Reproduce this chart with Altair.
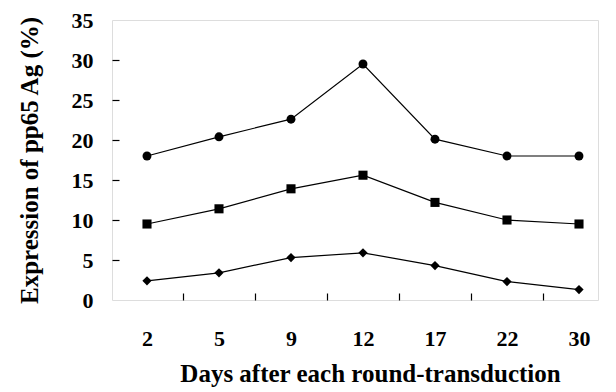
import altair as alt
import pandas as pd

days = ["2", "5", "9", "12", "17", "22", "30"]
circle_vals = [18.0, 20.4, 22.6, 29.5, 20.1, 18.0, 18.0]
square_vals = [9.5, 11.4, 13.9, 15.6, 12.2, 10.0, 9.5]
diamond_vals = [2.4, 3.4, 5.3, 5.9, 4.3, 2.3, 1.3]
series_names = ["circle", "square", "diamond"]
y_ticks = [0, 5, 10, 15, 20, 25, 30, 35]

rows = []
for name, vals in zip(series_names, [circle_vals, square_vals, diamond_vals]):
    for i, (d, v) in enumerate(zip(days, vals)):
        rows.append({"idx": i, "day": d, "value": v, "series": name})
df = pd.DataFrame(rows)

FONT = "'Liberation Serif', 'Times New Roman', Times, serif"
label_expr = "[" + ",".join('"%s"' % d for d in days) + "][datum.value]"

xscale = alt.Scale(domain=[-0.486, 6.264], nice=False, zero=False)
yscale = alt.Scale(domain=[0, 35], nice=False)

base = alt.Chart(df)

lines = base.mark_line(color="black", strokeWidth=1.2).encode(
    x=alt.X("idx:Q", scale=xscale, axis=alt.Axis(
        orient="bottom", values=list(range(len(days))), labelExpr=label_expr,
        ticks=False, tickSize=0, domain=False, grid=False,
        labelFont=FONT, labelFontSize=22, labelFontWeight="bold", labelColor="black",
        labelPadding=38, labelBaseline="middle", labelAlign="center",
        title="Days after each round-transduction", titleFont=FONT, titleFontSize=25,
        titleFontWeight="bold", titleColor="black", titleX=258, titleY=73,
        titleBaseline="middle", titleAlign="center")),
    y=alt.Y("value:Q", scale=yscale, axis=alt.Axis(
        orient="left", values=y_ticks, ticks=False, tickSize=0, domain=False, grid=False,
        labelFont=FONT, labelFontSize=22, labelFontWeight="bold", labelColor="black",
        labelPadding=19, labelBaseline="middle", labelAlign="right",
        title="Expression of pp65 Ag (%)", titleFont=FONT, titleFontSize=25,
        titleFontWeight="bold", titleColor="black", titleX=-83, titleY=140,
        titleAngle=-90, titleBaseline="middle", titleAlign="center")),
    detail="series:N",
)

points = base.mark_point(filled=True, color="black", opacity=1).encode(
    x=alt.X("idx:Q", scale=xscale, axis=alt.Axis(
        orient="bottom", values=[i + 0.5 for i in range(len(days) - 1)],
        labels=False, ticks=True, tickSize=7, tickWidth=1.2, tickColor="black",
        offset=-7, domain=False, grid=False, title=None)),
    y=alt.Y("value:Q", scale=yscale, axis=alt.Axis(
        orient="left", values=y_ticks[1:-1], labels=False, ticks=True, tickSize=7,
        tickWidth=1.2, tickColor="black", offset=-7, domain=False, grid=False, title=None)),
    shape=alt.Shape("series:N", scale=alt.Scale(domain=series_names,
                                                range=["circle", "square", "diamond"]),
                    legend=None),
    size=alt.Size("series:N", scale=alt.Scale(domain=series_names, range=[80, 85, 90]),
                  legend=None),
)

chart = alt.layer(lines, points).resolve_axis(x="independent", y="independent").properties(
    width=486, height=280,
    autosize=alt.AutoSizeParams(type="none"),
    padding={"left": 104, "top": 12, "right": 10, "bottom": 90},
).configure_view(stroke="black", strokeWidth=1.4).configure(background="white",
                                                            font=FONT)

chart.save("out.html", embed_options={"renderer": "svg", "actions": False})
